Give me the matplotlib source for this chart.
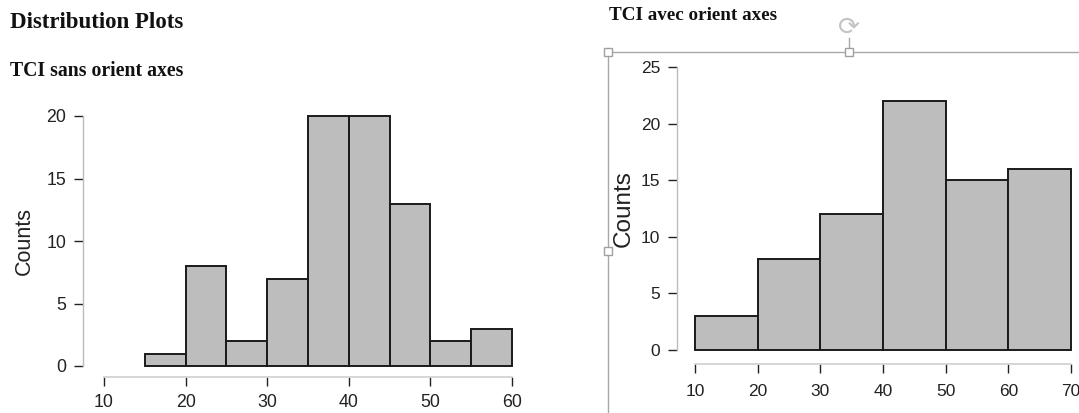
import matplotlib.pyplot as plt
from matplotlib.patches import Rectangle

W, H = 1079, 413

left_edges = [15, 20, 25, 30, 35, 40, 45, 50, 55, 60]
left_counts = [1, 8, 2, 7, 20, 20, 13, 2, 3]
left_xticks = [10, 20, 30, 40, 50, 60]
left_yticks = [0, 5, 10, 15, 20]

right_edges = [10, 20, 30, 40, 50, 60, 70]
right_counts = [3, 8, 12, 22, 15, 16]
right_xticks = [10, 20, 30, 40, 50, 60, 70]
right_yticks = [0, 5, 10, 15, 20, 25]

plt.rcParams['font.family'] = ['Liberation Sans', 'DejaVu Sans']

fig = plt.figure(figsize=(W / 100, H / 100), dpi=100)


def px_axes(x0, x1, y_bottom, y_top):
    # pixel box from the top-left corner of the picture
    return fig.add_axes([x0 / W, 1 - y_bottom / H, (x1 - x0) / W, (y_bottom - y_top) / H])


def hist_panel(ax, edges, counts, xticks, yticks, off_left, off_bottom, size, xpad, ypad):
    ax.hist(edges[:-1], bins=edges, weights=counts, color='#bdbdbd',
            edgecolor='#1a1a1a', linewidth=1.4)
    ax.set_xlim(xticks[0], xticks[-1])
    ax.set_ylim(yticks[0], yticks[-1])
    ax.set_xticks(xticks)
    ax.set_yticks(yticks)
    ax.spines['top'].set_visible(False)
    ax.spines['right'].set_visible(False)
    ax.spines['left'].set_position(('outward', off_left * 0.72))
    ax.spines['bottom'].set_position(('outward', off_bottom * 0.72))
    ax.spines['left'].set_color('#bcbcbc')
    ax.spines['bottom'].set_color('#cfcfcf')
    ax.spines['left'].set_linewidth(1.0)
    ax.spines['bottom'].set_linewidth(1.2)
    ax.tick_params(axis='both', length=6.5, width=1.0, color='#222222',
                   labelcolor='#222222', labelsize=size)
    ax.tick_params(axis='x', pad=xpad)
    ax.tick_params(axis='y', pad=ypad)
    ax.patch.set_alpha(0)
    for p in ax.patches:
        p.set_clip_on(False)


ax1 = px_axes(104, 512, 366, 116)
hist_panel(ax1, left_edges, left_counts, left_xticks, left_yticks, 21, 11, 12.8, 5.5, 5.5)
ax1.set_ylabel('Counts', fontsize=15.5, color='#222222')
ax1.yaxis.set_label_coords(35 / W, 1 - 241 / H, transform=fig.transFigure)

ax2 = px_axes(695, 1071, 350, 67)
hist_panel(ax2, right_edges, right_counts, right_xticks, right_yticks, 18, 14, 12.5, 8, 5.5)
ax2.set_ylabel('Counts', fontsize=17.5, color='#222222')
ax2.yaxis.set_label_coords(635 / W, 1 - 209 / H, transform=fig.transFigure)

# page text
serif = ['Liberation Serif', 'DejaVu Serif']
fig.text(10 / W, 1 - 23 / H, 'Distribution Plots', family=serif, weight='bold',
         fontsize=16.5, va='center', color='#111111')
fig.text(10 / W, 1 - 71 / H, 'TCI sans orient axes', family=serif, weight='bold',
         fontsize=14.2, va='center', color='#111111')
fig.text(609 / W, 1 - 15 / H, 'TCI avec orient axes', family=serif, weight='bold',
         fontsize=13.8, va='center', color='#111111')

# selection frame of the pasted picture
over = fig.add_axes([0, 0, 1, 1])
over.set_xlim(0, W)
over.set_ylim(H, 0)
over.axis('off')
over.patch.set_alpha(0)
over.plot([608, W], [52, 52], color='#a8a8a8', lw=1)
over.plot([608, 608], [52, H], color='#a8a8a8', lw=1)
over.plot([849, 849], [38, 52], color='#a8a8a8', lw=1)
for hx, hy in [(608, 52), (849, 52), (608, 251)]:
    over.add_patch(Rectangle((hx - 4, hy - 4), 8, 8, facecolor='white',
                             edgecolor='#a0a0a0', lw=1, zorder=5))
over.text(849, 28, '\u27f3', family='DejaVu Sans', fontsize=19, color='#c4c4c4',
          ha='center', va='center')

fig.savefig('out.png', dpi=100)
